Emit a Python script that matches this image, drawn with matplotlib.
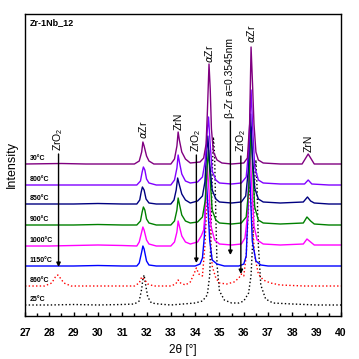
import matplotlib
matplotlib.use("Agg")
import matplotlib.pyplot as plt
from matplotlib.ticker import MultipleLocator

plt.rcParams['font.family'] = ['Liberation Sans', 'DejaVu Sans']
plt.rcParams['mathtext.fontset'] = 'custom'
plt.rcParams['mathtext.rm'] = 'Liberation Sans'

# ---------------- data ----------------
labels = ["25°C", "860°C", "1150°C", "1000°C", "900°C", "850°C", "800°C", "30°C"]
offsets = [11, 30, 50, 70, 91, 112, 131, 152]
colors = ["black", "red", "#0000FF", "#FF00FF", "#008000", "#000080", "#8000FF", "#800080"]
styles = [":", ":", "-", "-", "-", "-", "-", "-"]

x25 = [27, 28, 29, 30, 31, 31.5, 31.7, 31.8, 31.85, 31.9, 31.95, 32.05, 32.2, 32.5, 33, 33.5, 34, 34.3, 34.5,
       34.6, 34.65, 34.7, 34.75, 34.8, 34.85, 34.9, 35.0, 35.2, 35.5, 35.8, 36.0, 36.2, 36.3, 36.4, 36.45,
       36.5, 36.55, 36.6, 36.7, 36.9, 37.2, 38, 39, 40]
y25 = [0, 0, 0.5, 0, 0.5, 1, 4, 16, 26, 30, 22, 8, 2, 1, 0, 1, 2, 4, 10,
       30, 70, 130, 168, 150, 90, 40, 14, 5, 2, 2, 4, 12, 30, 80, 125,
       145, 115, 60, 20, 6, 2, 1, 0, 0]

x860 = [27, 27.8, 28.1, 28.25, 28.35, 28.45, 28.6, 28.9, 29.5, 30.5, 31.5, 31.7, 31.8, 31.9, 32.05, 32.3,
        33.0, 33.2, 33.3, 33.4, 33.6, 33.8, 33.95, 34.05, 34.15, 34.3, 34.4, 34.5, 34.6, 34.7, 34.85, 35.0,
        35.3, 35.6, 35.8, 35.9, 36.0, 36.1, 36.2, 36.25, 36.35, 36.45, 36.6, 36.8, 37.1, 37.5, 38.5, 40]
y860 = [0, 0, 3, 9, 11, 8, 3, 0, 0, 0, 0, 3, 9, 7, 2, 0,
        0, 2, 6, 3, 1, 4, 12, 18, 12, 10, 40, 90, 60, 20, 8, 3,
        2, 4, 8, 12, 10, 30, 80, 100, 65, 30, 12, 6, 3, 1, 0, 0]

x1150 = [27, 29, 30, 31, 31.6, 31.7, 31.8, 31.85, 31.9, 32.0, 32.1, 32.4, 33, 34, 34.2, 34.3, 34.38,
         34.45, 34.5, 34.6, 34.7, 34.9, 35.2, 35.8, 36.0, 36.1, 36.18, 36.22, 36.28, 36.35, 36.5, 36.7,
         37, 38, 40]
y1150 = [0, 0, 0.5, 0, 0, 3, 14, 20, 17, 5, 1, 0, 0, 0, 2, 8, 30,
         90, 70, 25, 6, 2, 0, 0, 2, 10, 60, 110, 70, 25, 5, 1,
         0, 0, 0]

x1000 = [27, 28, 29, 30, 31, 31.6, 31.7, 31.8, 31.85, 31.9, 32.0, 32.1, 32.4, 33.0, 33.15, 33.25, 33.3,
         33.35, 33.45, 33.6, 33.8, 34.1, 34.25, 34.35, 34.43, 34.5, 34.57, 34.65, 34.8, 35.0, 35.5, 35.9,
         36.05, 36.15, 36.25, 36.33, 36.42, 36.55, 36.8, 37.5, 38.45, 38.6, 38.75, 38.9, 39.5, 40]
y1000 = [0, 0, 0.5, 1, 0.5, 0, 4, 14, 19, 16, 6, 2, 0, 0, 4, 14, 25,
         20, 10, 4, 2, 4, 10, 16, 40, 80, 55, 20, 6, 2, 1, 2,
         8, 30, 100, 60, 20, 6, 2, 1, 2, 7, 4, 1, 1, 1]

x900 = [27, 28, 29, 30, 31, 31.6, 31.75, 31.82, 31.87, 31.93, 32.0, 32.1, 32.4, 33.0, 33.15, 33.25, 33.3,
        33.36, 33.45, 33.6, 33.8, 34.1, 34.3, 34.42, 34.5, 34.55, 34.62, 34.7, 34.85, 35.0, 35.5, 35.9,
        36.1, 36.2, 36.3, 36.37, 36.45, 36.6, 36.8, 37.5, 38.45, 38.6, 38.75, 38.9, 39.5, 40]
y900 = [0, 0, 0, 0.5, 0, 0, 4, 13, 18, 15, 6, 2, 0, 0, 4, 15, 27,
        20, 10, 4, 2, 3, 8, 25, 60, 75, 45, 15, 5, 2, 1, 2,
        8, 35, 98, 55, 18, 5, 2, 1, 2, 8, 4, 1, 0, 0]

x850 = [27, 28, 29, 30, 31, 31.6, 31.72, 31.78, 31.83, 31.9, 31.98, 32.1, 32.4, 33.0, 33.13, 33.22, 33.28,
        33.34, 33.45, 33.6, 33.8, 34.1, 34.3, 34.4, 34.47, 34.52, 34.6, 34.7, 34.85, 35.0, 35.5, 35.9,
        36.08, 36.18, 36.28, 36.35, 36.45, 36.6, 36.8, 37.5, 38.45, 38.62, 38.75, 38.9, 39.5, 40]
y850 = [0, 0, 0, 0.5, 0, 0, 4, 12, 17, 14, 5, 1, 0, 0, 4, 14, 26,
        20, 10, 4, 1, 3, 8, 22, 50, 68, 40, 14, 5, 2, 1, 2,
        8, 32, 90, 50, 16, 5, 2, 1, 2, 7, 3, 1, 0, 0]

x800 = [27, 28, 29, 30, 31, 31.6, 31.75, 31.82, 31.87, 31.93, 32.0, 32.1, 32.4, 33.0, 33.15, 33.25, 33.3,
        33.36, 33.45, 33.6, 33.8, 34.1, 34.3, 34.42, 34.5, 34.55, 34.62, 34.7, 34.85, 35.0, 35.5, 35.9,
        36.1, 36.2, 36.3, 36.37, 36.45, 36.6, 36.8, 37.5, 38.5, 38.65, 38.8, 39.5, 40]
y800 = [0, 0, 0, 0, 0, 0, 4, 13, 18, 15, 6, 2, 0, 0, 5, 17, 30,
        22, 11, 4, 2, 3, 8, 25, 55, 68, 40, 14, 5, 2, 1, 2,
        8, 35, 95, 55, 18, 5, 2, 1, 1, 5, 1, 0, 0]

x30 = [27, 28.5, 29.5, 31.5, 31.7, 31.8, 31.85, 31.9, 32.0, 32.1, 32.3, 33.0, 33.15, 33.25, 33.3, 33.35,
       33.45, 33.6, 33.8, 34.2, 34.35, 34.45, 34.5, 34.57, 34.62, 34.67, 34.75, 34.9, 35.1, 35.5, 36.0,
       36.15, 36.24, 36.3, 36.36, 36.42, 36.5, 36.6, 36.8, 37.5, 38.4, 38.55, 38.65, 38.75, 38.9, 39.5, 40]
y30 = [0, 0.5, 0, 0, 3, 12, 22, 18, 8, 3, 0, 0, 5, 18, 32, 24,
       12, 5, 1, 2, 6, 20, 50, 100, 75, 35, 12, 4, 1, 0, 1,
       6, 40, 117, 80, 40, 12, 4, 1, 0, 0, 6, 10, 6, 0, 0, 0]

series_x = [x25, x860, x1150, x1000, x900, x850, x800, x30]
series_y = [y25, y860, y1150, y1000, y900, y850, y800, y30]

# annotations: (text, x, text bottom y, arrow tail y, arrow head y)
phase_labels = [
    (r"ZrO$_\mathregular{2}$", 28.38, 165, 162, 49),
    (r"$\alpha$Zr", 31.85, 177, None, None),
    ("ZrN", 33.30, 186, None, None),
    (r"ZrO$_\mathregular{2}$", 34.05, 164, 161, 53),
    (r"$\alpha$Zr", 34.57, 253, None, None),
    ("β-Zr a=0.3545nm", 35.45, 198, 195, 61),
    (r"ZrO$_\mathregular{2}$", 35.88, 164, 160, 42),
    (r"$\alpha$Zr", 36.30, 273, None, None),
    ("ZrN", 38.65, 164, None, None),
]

# ---------------- figure ----------------
fig = plt.figure(figsize=(3.59, 3.59), dpi=100)
ax = fig.add_axes([25 / 359, 43 / 359, 316 / 359, 302 / 359])

for xs, ys, off, c, ls in zip(series_x, series_y, offsets, colors, styles):
    ax.plot(xs, [v + off for v in ys], color=c, ls=ls, lw=1.0)

for lab, off in zip(labels, offsets):
    ax.text(27.18, off + 2, lab, fontsize=5, fontweight='bold', ha='left', va='bottom')

for txt, x, ty, t0, t1 in phase_labels:
    ax.text(x, ty, txt, rotation=90, fontsize=7.5, ha='center', va='bottom')
    if t0 is not None:
        ax.annotate('', xy=(x, t1), xytext=(x, t0),
                    arrowprops=dict(arrowstyle='-|>', color='black', lw=1.0,
                                    mutation_scale=6, shrinkA=0, shrinkB=0))

ax.text(27.18, 293, "Zr-1Nb_12", fontsize=6.5, fontweight='bold', ha='left', va='center')

ax.set_xlim(27, 40)
ax.set_ylim(0, 302)
ax.set_yticks([])
ax.xaxis.set_major_locator(MultipleLocator(1))
ax.xaxis.set_minor_locator(MultipleLocator(0.5))
ax.tick_params(axis='x', which='major', direction='in', length=3, width=1, labelsize=7.5, pad=9)
ax.tick_params(axis='x', which='minor', direction='in', length=2, width=1)
for lbl in ax.get_xticklabels():
    lbl.set_fontweight('bold')
for s in ax.spines.values():
    s.set_linewidth(1.0)

ax.set_xlabel("2θ [°]", fontsize=8.5, labelpad=4)
ax.set_ylabel("Intensity", fontsize=9, labelpad=5)

fig.savefig("out.png", dpi=100)
